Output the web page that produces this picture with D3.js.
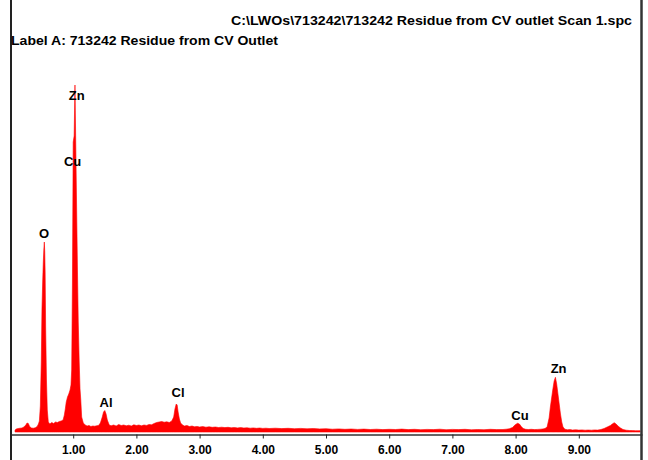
<!DOCTYPE html>
<html>
<head>
<meta charset="utf-8">
<script src="https://cdn.jsdelivr.net/npm/d3@7/dist/d3.min.js"></script>
<style>
  html, body { margin: 0; padding: 0; background: #fff; }
  svg { display: block; }
  text { font-family: "Liberation Sans", Arial, sans-serif; }
</style>
</head>
<body>
<svg id="chart" width="648" height="460"></svg>
<script>
// ---- Data ----
const titleFile = "C:\\LWOs\\713242\\713242 Residue from CV outlet Scan 1.spc";
const titleLabel = "Label A: 713242 Residue from CV Outlet";

const energyKeV = [
  0.08,0.10,0.13,0.16,0.19,0.22,0.25,0.27,0.29,0.31,0.34,0.37,0.40,0.43,0.45,
  0.465,0.48,0.495,0.506,0.517,0.527,0.535,0.543,0.550,0.556,0.564,0.577,0.590,0.606,
  0.63,0.66,0.69,0.72,0.75,0.78,0.81,0.84,0.86,0.875,0.89,0.91,0.93,0.95,0.965,0.976,
  0.988,1.000,1.015,1.028,1.040,1.055,1.068,1.080,1.095,1.108,1.120,1.134,1.16,1.19,
  1.22,1.25,1.28,1.31,1.34,1.37,1.40,1.43,1.46,1.48,1.50,1.52,1.54,1.57,1.60,
  1.64,1.68,1.72,1.76,1.80,1.84,1.88,1.92,1.96,2.00,2.04,2.08,2.12,2.16,2.20,
  2.24,2.28,2.32,2.36,2.40,2.44,2.48,2.52,2.56,2.59,2.61,2.63,2.645,2.66,2.68,
  2.70,2.73,2.76,2.80,2.84,2.88,2.92,2.96,3.00,3.05,3.10,3.15,3.20,3.25,3.30,
  3.35,3.40,3.45,3.50,3.55,3.60,3.65,3.70,3.75,3.80,3.85,3.90,3.95,4.00,4.05,
  4.10,4.20,4.30,4.40,4.50,4.60,4.70,4.80,4.90,5.00,5.10,5.20,5.30,5.40,5.50,
  5.60,5.70,5.80,5.90,6.00,6.10,6.20,6.30,6.40,6.50,6.60,6.70,6.80,6.90,7.00,
  7.10,7.20,7.30,7.40,7.50,7.60,7.70,7.80,7.85,7.90,7.95,7.99,8.03,8.06,8.09,
  8.12,8.16,8.20,8.25,8.30,8.35,8.40,8.45,8.48,8.50,8.53,8.55,8.57,8.59,8.61,
  8.63,8.65,8.67,8.69,8.71,8.73,8.75,8.78,8.82,8.86,8.90,8.95,9.00,9.05,9.10,
  9.15,9.20,9.25,9.30,9.35,9.40,9.45,9.50,9.53,9.56,9.59,9.62,9.66,9.70,9.75,
  9.80,9.85,9.90,9.97
];
const counts = [
  20,30,35,38,40,50,70,90,85,55,40,38,42,55,80,
  110,260,700,1230,1500,1700,1820,1900,1800,1600,1050,520,220,100,
  80,95,85,100,95,105,110,120,170,230,300,350,380,420,470,620,
  1500,2900,2960,3470,2900,2200,1600,1100,700,430,320,150,90,70,
  60,65,55,60,58,62,65,90,150,200,215,180,120,70,62,
  70,60,75,65,70,62,68,60,72,65,70,62,70,66,75,
  72,85,95,100,105,98,102,95,110,150,230,280,270,200,130,
  90,70,60,65,55,60,52,56,50,54,48,52,47,50,45,
  48,44,47,42,45,41,44,40,42,38,41,37,40,36,38,
  35,38,34,37,33,36,32,35,31,33,28,31,27,30,26,
  29,25,28,24,27,25,29,24,27,23,26,24,28,23,26,
  24,27,22,25,23,27,24,25,28,32,45,70,87,80,55,
  35,27,25,27,24,26,28,32,40,55,140,250,340,430,510,
  547,480,380,280,180,100,50,28,22,24,20,22,19,21,18,
  20,18,21,19,25,35,50,65,80,93,80,60,40,25,18,
  15,14,13,13
];

const tickValues = [1, 2, 3, 4, 5, 6, 7, 8, 9];

const peakNames  = ["Zn", "Cu", "O", "Al", "Cl", "Cu", "Zn"];
const peakKeV    = [1.055, 0.99, 0.538, 1.52, 2.66, 8.07, 8.68];
const peakCounts = [3320, 2660, 1940, 250, 350, 120, 590];

// ---- Drawing ----
const svg = d3.select("#chart");
const W = 648, H = 460;

const x = d3.scaleLinear().domain([0, 10]).range([10, 642]);
const y = d3.scaleLinear().domain([0, 3500]).range([432, 82]);

const spectrum = energyKeV.map((e, i) => ({ e, c: counts[i] }));

// spectrum fill
const area = d3.area()
  .x(d => x(d.e))
  .y0(y(0))
  .y1(d => y(d.c))
  .curve(d3.curveLinear);

svg.append("path")
  .datum(spectrum)
  .attr("d", area)
  .attr("fill", "#ff0000")
  .attr("stroke", "#ff0000")
  .attr("stroke-width", 0.6);

// x axis
const axis = d3.axisBottom(x)
  .tickValues(tickValues)
  .tickFormat(d3.format(".2f"))
  .tickSizeInner(4)
  .tickSizeOuter(0)
  .tickPadding(7);

const gAxis = svg.append("g")
  .attr("transform", "translate(0,434.5)")
  .call(axis);
gAxis.select(".domain").attr("stroke", "#333").attr("stroke-width", 1.5);
gAxis.selectAll(".tick line").attr("stroke", "#222");
gAxis.selectAll(".tick text")
  .attr("fill", "#000")
  .style("font-family", "'Liberation Sans', Arial, sans-serif")
  .style("font-size", "12px")
  .style("font-weight", "bold");

// frame borders
svg.append("line")
  .attr("x1", 11).attr("x2", 11).attr("y1", 0).attr("y2", H)
  .attr("stroke", "#222").attr("stroke-width", 2);
svg.append("line")
  .attr("x1", 641.5).attr("x2", 641.5).attr("y1", 0).attr("y2", H)
  .attr("stroke", "#333").attr("stroke-width", 2.5);

// header texts
svg.append("text")
  .attr("x", 632).attr("y", 25)
  .attr("text-anchor", "end")
  .attr("textLength", 401).attr("lengthAdjust", "spacingAndGlyphs")
  .style("font-size", "13px").style("font-weight", "bold")
  .attr("fill", "#000")
  .text(titleFile);
svg.append("text")
  .attr("x", 11).attr("y", 45)
  .attr("textLength", 267).attr("lengthAdjust", "spacingAndGlyphs")
  .style("font-size", "13px").style("font-weight", "bold")
  .attr("fill", "#000")
  .text(titleLabel);

// peak labels
svg.append("g").selectAll("text")
  .data(peakNames)
  .join("text")
  .attr("x", (d, i) => x(peakKeV[i]))
  .attr("y", (d, i) => y(peakCounts[i]))
  .attr("text-anchor", "middle")
  .style("font-size", "13px").style("font-weight", "bold")
  .attr("fill", "#000")
  .text(d => d);
</script>
</body>
</html>
